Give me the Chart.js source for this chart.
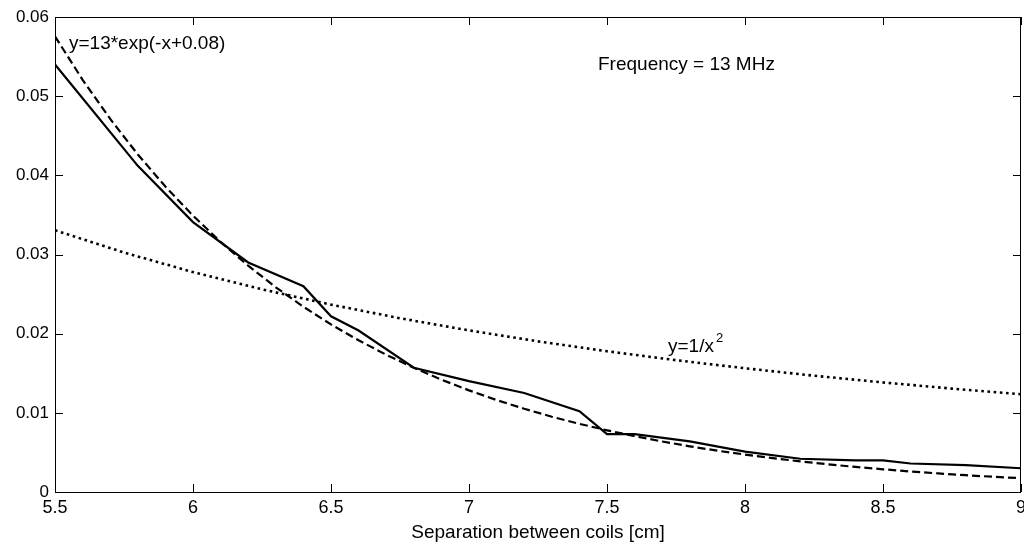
<!DOCTYPE html>
<html>
<head>
<meta charset="utf-8">
<script src="https://cdn.jsdelivr.net/npm/chart.js@4"></script>
<style>
  html, body { margin: 0; padding: 0; background: #fff; }
  #wrap { width: 1024px; height: 544px; }
</style>
</head>
<body>
<div id="wrap"><canvas id="c" width="1024" height="544"></canvas></div>
<script>
// ===== Data =====
// measured curve (solid)
const measX = [5.5, 5.8, 6.0, 6.2, 6.4, 6.5, 6.6, 6.8, 7.0, 7.2, 7.4, 7.5, 7.6, 7.8, 8.0, 8.2, 8.4, 8.5, 8.6, 8.8, 9.0];
const measY = [0.0540, 0.0412, 0.0341, 0.0290, 0.0260, 0.0222, 0.0204, 0.0157, 0.0140, 0.0125, 0.0102, 0.0073, 0.0073, 0.0064, 0.0051, 0.0042, 0.0040, 0.0040, 0.0036, 0.0034, 0.0030];

// exponential fit (dashed)
const expX = [5.5, 5.6, 5.7, 5.8, 5.9, 6.0, 6.1, 6.2, 6.3, 6.4, 6.5, 6.6, 6.7, 6.8, 6.9, 7.0, 7.1, 7.2,
              7.3, 7.4, 7.5, 7.6, 7.7, 7.8, 7.9, 8.0, 8.1, 8.2, 8.3, 8.4, 8.5, 8.6, 8.7, 8.8, 8.9, 9.0];
const expY = [0.05755, 0.05207, 0.04712, 0.04264, 0.03858, 0.03491, 0.03159, 0.02858, 0.02586, 0.02340,
              0.02117, 0.01916, 0.01734, 0.01569, 0.01419, 0.01284, 0.01162, 0.01052, 0.00951, 0.00861,
              0.00779, 0.00705, 0.00638, 0.00577, 0.00522, 0.00473, 0.00428, 0.00387, 0.00350, 0.00317,
              0.00287, 0.00259, 0.00235, 0.00212, 0.00192, 0.00174];

// inverse square (dotted)
const invX = [5.5, 5.75, 6.0, 6.25, 6.5, 6.75, 7.0, 7.25, 7.5, 7.75, 8.0, 8.25, 8.5, 8.75, 9.0];
const invY = [0.03306, 0.03025, 0.02778, 0.02560, 0.02367, 0.02195, 0.02041, 0.01903, 0.01778,
              0.01665, 0.01563, 0.01469, 0.01384, 0.01306, 0.01235];

const xTicks = [5.5, 6, 6.5, 7, 7.5, 8, 8.5, 9];
const yTicks = [0, 0.01, 0.02, 0.03, 0.04, 0.05, 0.06];
const xTitle = 'Separation between coils [cm]';

const FONT = 'Liberation Sans, Arial, sans-serif';
const pts = (xs, ys) => xs.map((x, i) => ({ x, y: ys[i] }));

// ===== Box, inward ticks, text labels =====
const frame = {
  id: 'frame',
  afterDraw(chart) {
    const { ctx, chartArea: a, scales: { x, y } } = chart;
    ctx.save();
    ctx.strokeStyle = '#000';
    ctx.lineWidth = 1;
    ctx.strokeRect(a.left + 0.5, a.top + 0.5, a.right - a.left - 1, a.bottom - a.top);
    const L = 8;
    ctx.beginPath();
    xTicks.forEach(v => {
      const px = Math.round(x.getPixelForValue(v)) + 0.5;
      ctx.moveTo(px, a.bottom); ctx.lineTo(px, a.bottom - L);
      ctx.moveTo(px, a.top);    ctx.lineTo(px, a.top + L);
    });
    yTicks.forEach(v => {
      const py = Math.round(y.getPixelForValue(v)) + 0.5;
      ctx.moveTo(a.left, py);  ctx.lineTo(a.left + L, py);
      ctx.moveTo(a.right, py); ctx.lineTo(a.right - L, py);
    });
    ctx.stroke();

    // annotations
    ctx.fillStyle = '#000';
    ctx.textBaseline = 'alphabetic';
    ctx.textAlign = 'left';
    ctx.font = '19px ' + FONT;
    ctx.fillText('y=13*exp(-x+0.08)', 69, 49);
    ctx.fillText('Frequency = 13 MHz', 598, 70);
    const s = 'y=1/x';
    ctx.fillText(s, 668, 352);
    const w = ctx.measureText(s).width;
    ctx.font = '13px ' + FONT;
    ctx.fillText('2', 668 + w + 2, 342);
    ctx.restore();
  }
};

new Chart(document.getElementById('c'), {
  type: 'line',
  data: {
    datasets: [
      { data: pts(measX, measY), borderColor: '#000', borderWidth: 2.2, pointRadius: 0, tension: 0, fill: false },
      { data: pts(expX, expY), borderColor: '#000', borderWidth: 2.2, borderDash: [8, 4], pointRadius: 0, tension: 0, fill: false },
      { data: pts(invX, invY), borderColor: '#000', borderWidth: 2.6, borderDash: [2.6, 3.6], pointRadius: 0, tension: 0, fill: false }
    ]
  },
  plugins: [frame],
  options: {
    responsive: false,
    animation: false,
    events: [],
    layout: { padding: { left: 0, right: 3, top: 17, bottom: 0 } },
    plugins: { legend: { display: false }, tooltip: { enabled: false } },
    scales: {
      x: {
        type: 'linear', min: 5.5, max: 9,
        afterBuildTicks: s => { s.ticks = xTicks.map(v => ({ value: v })); },
        afterFit: s => { s.height = 52; s.paddingLeft = 0; s.paddingRight = 0; },
        grid: { display: false, drawTicks: false },
        border: { display: false },
        ticks: { color: '#000', font: { family: FONT, size: 18 }, padding: 5, maxRotation: 0, autoSkip: false,
                 callback: v => String(v) },
        title: { display: true, text: xTitle, color: '#000', font: { family: FONT, size: 19 }, padding: { top: 0, bottom: 0 } }
      },
      y: {
        type: 'linear', min: 0, max: 0.06,
        afterBuildTicks: s => { s.ticks = yTicks.map(v => ({ value: v })); },
        afterFit: s => { s.width = 55; s.paddingTop = 0; s.paddingBottom = 0; },
        grid: { display: false, drawTicks: false },
        border: { display: false },
        ticks: { color: '#000', font: { family: FONT, size: 17 }, padding: 6, autoSkip: false,
                 callback: v => String(+v.toFixed(2)) }
      }
    }
  }
});
</script>
</body>
</html>
